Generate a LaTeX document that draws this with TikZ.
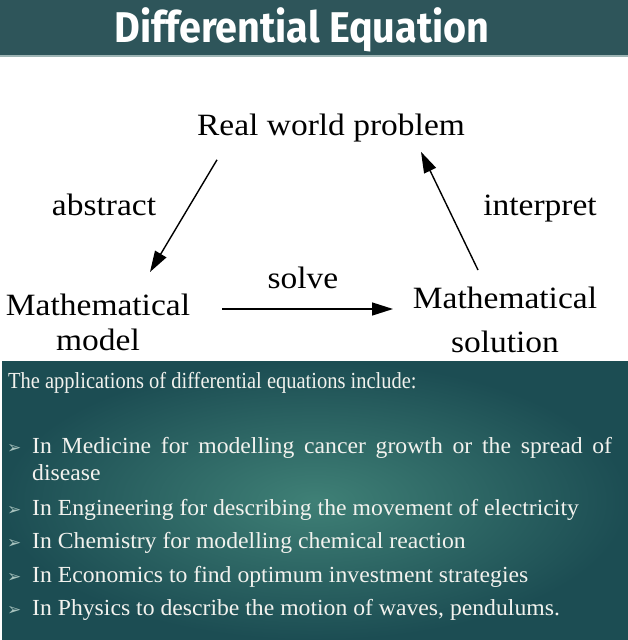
\documentclass[tikz,border=0pt]{standalone}
\usepackage{fontspec}
\setmainfont{Liberation Serif}
\newfontfamily\titlefont{Fira Sans}
\newfontfamily\symfont{DejaVu Sans}
\usetikzlibrary{arrows.meta,positioning}
\definecolor{titlebar}{HTML}{2E555A}
\definecolor{barline}{HTML}{9DB4B4}
\definecolor{paneldark}{HTML}{1C4D53}
\definecolor{panellight}{HTML}{3F8076}
\definecolor{bullettint}{HTML}{A8C3BE}
\definecolor{paneltext}{HTML}{F2F2EE}

\newcommand{\cyclesize}{\fontsize{31}{36}\selectfont}
\newcommand{\listsize}{\fontsize{23}{27}\selectfont}

\tikzset{
  titletext/.style={inner sep=0pt, text=white, xscale=0.92,
                    font=\titlefont\bfseries\fontsize{43}{48}\selectfont},
  cyclelabel/.style={inner sep=0pt, xscale=1.08, font=\cyclesize},
  flow/.style={line width=1.4pt, -{Triangle[length=21pt,width=13pt]}},
  headline/.style={inner sep=0pt, anchor=base west, text=paneltext,
                   xscale=0.89, font=\listsize},
  appitem/.style={inner sep=0pt, anchor=base west, text=paneltext,
                  xscale=1.03, font=\listsize},
  bulletmark/.style={inner sep=0pt, anchor=base west, text=bullettint,
                     font=\symfont\fontsize{17}{17}\selectfont},
}

\begin{document}
\begin{tikzpicture}[x=1pt, y=-1pt]
  \useasboundingbox (0,0) rectangle (628,640);

  % title band, pale rule under it
  \fill[titlebar] (0,0) rectangle (628,55);
  \fill[barline] (0,55) rectangle (628,57);
  \node[titletext, anchor=base] (title) at (302,42) {Differential Equation};

  % the modelling cycle
  \node[cyclelabel, anchor=base] (real) at (331,135) {Real world problem};
  \node[cyclelabel, anchor=north, align=center] (model) at (98,294) {Mathematical\\[-1pt]model};
  \node[cyclelabel, anchor=north, align=center] (sol) at (505,287) {Mathematical\\[7.6pt]solution};
  \node[cyclelabel, anchor=base] (abstract) at (104,215) {abstract};
  \node[cyclelabel, anchor=base] (interp) at (540,215) {interpret};
  \node[cyclelabel, anchor=base] (solve) at (303,288) {solve};

  \draw[flow] ([shift={(-114,18)}]real.south) -- ([shift={(52,-22)}]model.north);
  \draw[flow] ([shift={(124,15)}]model.north) -- ([shift={(-112,22)}]sol.north);
  \draw[flow] ([shift={(-27,-17)}]sol.north) -- ([shift={(90,10)}]real.south);

  % applications panel
  \shade[inner color=panellight, outer color=paneldark] (2,361) rectangle (628,640);
  \node[headline] (head) at (8,388) {The applications of differential equations include:};
  \node[appitem, text width=563pt, align=justify] (item-453) at (32,453)
    {In Medicine for modelling cancer growth or the spread of\linebreak disease};
  \foreach \y/\txt in {515/{In Engineering for describing the movement of electricity},
                       548/{In Chemistry for modelling chemical reaction},
                       582/{In Economics to find optimum investment strategies},
                       615/{In Physics to describe the motion of waves, pendulums.}}
    \node[appitem] (item-\y) at (32,\y) {\txt};
  \foreach \y in {453,515,548,582,615}
    \node[bulletmark] (tick-\y) at (7,\y) {➢};
\end{tikzpicture}
\end{document}
